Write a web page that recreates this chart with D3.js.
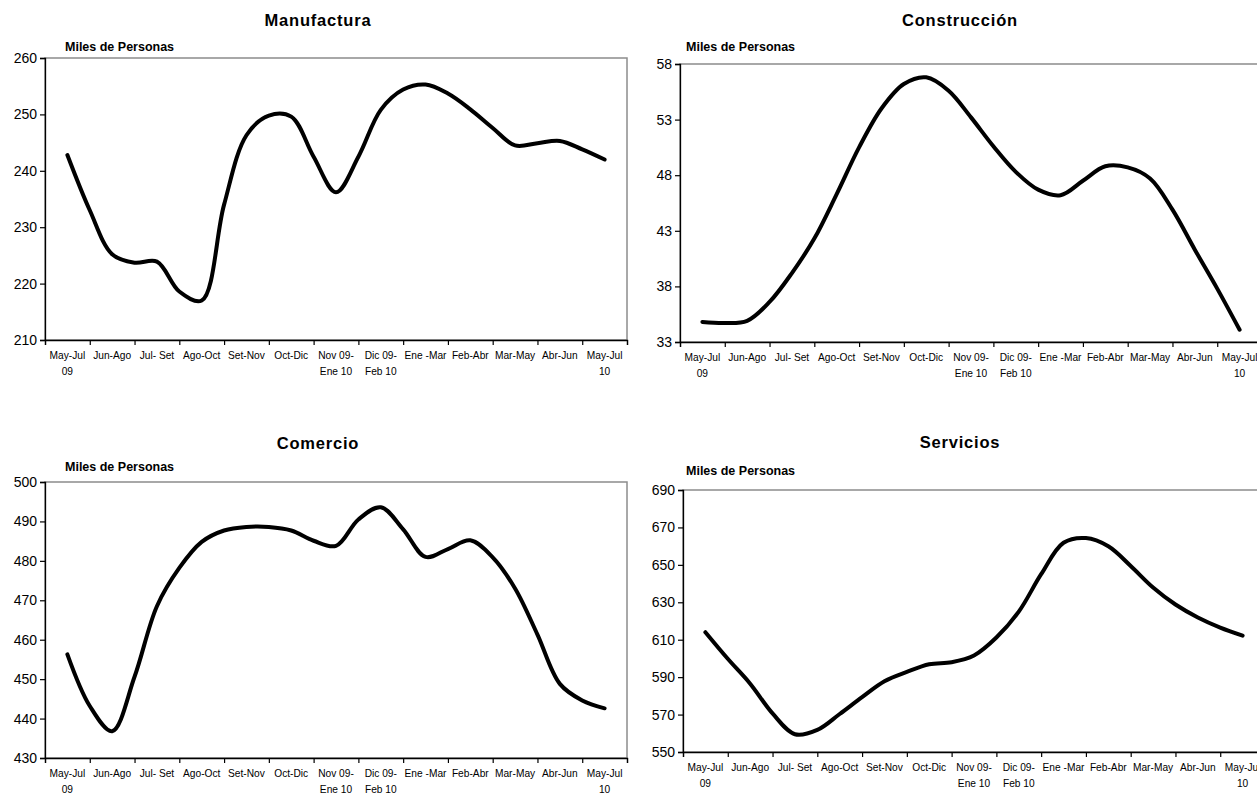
<!DOCTYPE html>
<html>
<head>
<meta charset="utf-8">
<script src="https://cdn.jsdelivr.net/npm/d3@7"></script>
<style>
  html, body { margin: 0; padding: 0; background: #fff; }
  svg { display: block; }
  .ttl { font-family: "Liberation Sans", Arial, sans-serif; font-weight: bold; font-size: 16.5px; letter-spacing: 0.8px; }
  .unit { font-family: "Liberation Sans", Arial, sans-serif; font-weight: bold; font-size: 12.5px; }
  .ytick text { font-family: "Liberation Sans", Arial, sans-serif; font-size: 14px; }
  .xlab { font-family: "Liberation Sans", Arial, sans-serif; font-size: 10.2px; }
</style>
</head>
<body>
<svg id="chart" width="1257" height="794"></svg>
<script>
// ---------- data ----------
const categories = [
  ["May-Jul", "09"], ["Jun-Ago"], ["Jul- Set"], ["Ago-Oct"], ["Set-Nov"], ["Oct-Dic"],
  ["Nov 09-", "Ene 10"], ["Dic 09-", "Feb 10"], ["Ene -Mar"], ["Feb-Abr"], ["Mar-May"], ["Abr-Jun"], ["May-Jul", "10"]
];
// series sampled every half category (position 0, 0.5, 1, ... 12)
const positions = d3.range(0, 12.001, 0.5);

const manufactura = [242.8, 233.0, 225.2, 223.7, 223.9, 218.6, 217.0, 234.0, 246.3, 249.8, 249.6, 242.5, 236.2,
                     242.5, 250.8, 254.4, 255.3, 253.7, 250.9, 247.6, 244.5, 244.9, 245.3, 243.8, 242.0];
const construccion = [34.8, 34.7, 34.9, 36.6, 39.2, 42.3, 46.3, 50.5, 54.0, 56.2, 56.8, 55.6, 53.2,
                      50.6, 48.3, 46.7, 46.2, 47.5, 48.8, 48.7, 47.7, 44.9, 41.3, 37.8, 34.1];
const comercio = [456.3, 443.2, 436.8, 450.6, 468.5, 478.2, 484.8, 487.7, 488.6, 488.6, 487.7, 485.1, 483.8,
                  490.5, 493.6, 488.0, 481.0, 483.0, 485.2, 480.9, 473.0, 461.3, 448.8, 444.6, 442.6];
const servicios = [614.0, 599.8, 586.5, 570.6, 559.5, 561.8, 570.3, 579.3, 587.8, 592.8, 596.9, 598.0, 601.6,
                   611.2, 625.0, 645.0, 661.8, 664.3, 659.9, 649.4, 637.9, 628.8, 621.9, 616.5, 612.2];

const titles = ["Manufactura", "Construcción", "Comercio", "Servicios"];
const yTicks1 = [210, 220, 230, 240, 250, 260];
const yTicks2 = [33, 38, 43, 48, 53, 58];
const yTicks3 = [430, 440, 450, 460, 470, 480, 490, 500];
const yTicks4 = [550, 570, 590, 610, 630, 650, 670, 690];
const unitLabel = "Miles de Personas";

// ---------- layout ----------
const panels = [
  { title: titles[0], values: manufactura, ticks: yTicks1, x0: 45, x1: 627, y0: 58, y1: 340, titleX: 318, titleY: 26, unitX: 65, unitY: 51 },
  { title: titles[1], values: construccion, ticks: yTicks2, x0: 680, x1: 1262, y0: 64, y1: 342, titleX: 960, titleY: 26, unitX: 686, unitY: 51 },
  { title: titles[2], values: comercio, ticks: yTicks3, x0: 45, x1: 627, y0: 482, y1: 758, titleX: 318, titleY: 449, unitX: 65, unitY: 471 },
  { title: titles[3], values: servicios, ticks: yTicks4, x0: 683, x1: 1265, y0: 490, y1: 752, titleX: 960, titleY: 448, unitX: 686, unitY: 475 }
];

const svg = d3.select("#chart");

panels.forEach(p => {
  const g = svg.append("g");
  const x = d3.scaleLinear().domain([-0.5, 12.5]).range([p.x0, p.x1]);
  const y = d3.scaleLinear().domain([p.ticks[0], p.ticks[p.ticks.length - 1]]).range([p.y1, p.y0]);

  // plot frame (top/right grey)
  g.append("rect")
    .attr("x", p.x0).attr("y", p.y0)
    .attr("width", p.x1 - p.x0).attr("height", p.y1 - p.y0)
    .attr("fill", "none").attr("stroke", "#8c8c8c").attr("stroke-width", 1.5);

  // y axis
  const ya = g.append("g").attr("class", "ytick")
    .attr("transform", `translate(${p.x0},0)`)
    .call(d3.axisLeft(y).tickValues(p.ticks).tickSize(5).tickPadding(3).tickFormat(d3.format("d")));
  ya.select(".domain").attr("stroke", "#000").attr("stroke-width", 1.3);
  ya.selectAll(".tick line").attr("stroke", "#000").attr("stroke-width", 1.2);
  ya.selectAll(".tick text").attr("fill", "#000");

  // x axis (ticks at category boundaries)
  const xa = g.append("g")
    .attr("transform", `translate(0,${p.y1})`)
    .call(d3.axisBottom(x).tickValues(d3.range(-0.5, 12.51, 1)).tickSize(5).tickFormat(""));
  xa.select(".domain").attr("stroke", "#000").attr("stroke-width", 1.3);
  xa.selectAll(".tick line").attr("stroke", "#000").attr("stroke-width", 1.2);

  // category labels
  categories.forEach((c, i) => {
    c.forEach((line, k) => {
      g.append("text").attr("class", "xlab")
        .attr("x", x(i)).attr("y", p.y1 + 19 + k * 16)
        .attr("text-anchor", "middle").text(line);
    });
  });

  // line
  const lineGen = d3.line()
    .x((d, i) => x(positions[i]))
    .y(d => y(d))
    .curve(d3.curveCatmullRom.alpha(0.5));
  g.append("path").datum(p.values)
    .attr("d", lineGen)
    .attr("fill", "none").attr("stroke", "#000")
    .attr("stroke-width", 4).attr("stroke-linejoin", "round").attr("stroke-linecap", "round");

  // titles
  g.append("text").attr("class", "ttl")
    .attr("x", p.titleX).attr("y", p.titleY)
    .attr("text-anchor", "middle").text(p.title);
  g.append("text").attr("class", "unit")
    .attr("x", p.unitX).attr("y", p.unitY).text(unitLabel);
});
</script>
</body>
</html>
